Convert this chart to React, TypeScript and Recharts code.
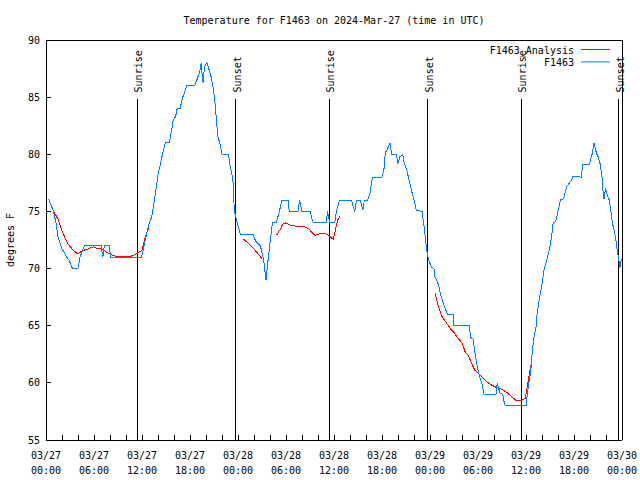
import { LineChart, Line, XAxis, YAxis, ReferenceLine, Legend } from "recharts";

// hours since 03/27 00:00 UTC
const obsHours = [
  0.3, 0.9, 1.25, 1.5, 1.95, 2.6, 2.9, 3.3, 4.0, 4.25, 4.8, 6.9, 7.1, 7.3, 7.9, 8.1, 11.9, 12.1, 12.25, 12.6,
  12.9, 13.2, 13.5, 13.8, 14.0, 14.5, 14.9, 15.4, 15.7, 15.9, 16.2, 16.4, 16.75, 17.1, 17.4, 17.6, 18.6, 18.9,
  19.2, 19.4, 19.5, 19.65, 19.8, 20.1, 20.3, 20.6, 20.9, 21.1, 21.3, 21.5, 21.8, 22.0, 22.8, 23.0, 23.2, 23.4,
  23.5, 23.6, 23.9, 24.3, 25.9, 26.2, 26.8, 27.2, 27.4, 27.5, 27.7, 28.0, 28.3, 28.8, 29.2, 29.5, 30.3, 30.4,
  31.5, 31.7, 32.0, 33.0, 33.2, 33.4, 35.0, 35.2, 35.3, 35.5, 36.1, 36.3, 36.7, 38.2, 38.4, 38.6, 38.8, 39.3,
  39.6, 39.8, 40.2, 40.5, 40.8, 42.0, 42.3, 42.4, 42.7, 43.0, 43.2, 43.8, 44.0, 44.25, 44.6, 44.75, 45.1, 45.4,
  45.7, 46.0, 46.3, 47.0, 47.2, 47.4, 47.6, 47.8, 48.2, 48.5, 48.6, 48.9, 49.1, 49.3, 49.6, 49.9, 50.2, 50.9,
  51.0, 52.9, 53.1, 53.4, 53.6, 53.8, 54.0, 54.25, 54.5, 54.75, 56.25, 56.4, 56.75, 57.1, 57.2, 57.4, 60.0,
  60.1, 60.3, 60.6, 60.8, 61.0, 61.25, 61.4, 61.7, 62.0, 62.25, 62.6, 62.9, 63.2, 63.4, 63.7, 64.0, 64.3, 64.7,
  65.1, 65.7, 65.9, 66.9, 67.1, 67.9, 68.1, 68.3, 68.5, 68.6, 68.8, 69.0, 69.25, 69.5, 69.6, 69.75, 69.95,
  70.1, 70.4, 70.6, 70.8, 71.1, 71.3, 71.4, 71.6, 71.75, 71.9,
];
const obsTemps = [
  76.1, 75.1, 74.0, 72.8, 71.8, 71.0, 70.7, 70.0, 70.0, 71.0, 72.0, 72.0, 71.0, 72.0, 72.0, 71.0, 71.0, 71.4, 72.0, 73.1,
  74.0, 74.5, 75.7, 77.2, 78.2, 79.8, 81.0, 81.0, 82.1, 83.0, 83.3, 84.0, 84.0, 85.0, 85.6, 86.0, 86.0, 86.6,
  87.2, 88.0, 87.1, 86.2, 87.6, 88.0, 87.6, 86.9, 85.8, 84.7, 83.0, 81.5, 80.8, 80.0, 80.0, 79.1, 78.4, 77.5,
  75.7, 74.9, 74.0, 73.0, 73.0, 72.4, 72.0, 70.75, 69.6, 69.0, 70.4, 72.2, 74.0, 74.0, 75.1, 76.0, 76.0, 75.0,
  75.0, 76.0, 75.0, 75.0, 74.5, 74.0, 74.0, 75.0, 74.5, 74.0, 74.0, 75.0, 76.0, 76.0, 75.4, 75.0, 76.0, 76.0,
  75.1, 76.0, 76.0, 76.6, 78.0, 78.0, 78.9, 80.1, 80.5, 81.0, 80.0, 80.0, 79.2, 79.8, 80.0, 79.3, 78.6, 77.7,
  76.8, 76.0, 75.1, 75.0, 74.0, 72.8, 71.6, 70.8, 70.1, 70.0, 69.3, 68.9, 68.5, 67.8, 67.1, 66.5, 66.0, 66.0,
  65.0, 65.0, 64.0, 63.8, 62.7, 61.9, 61.1, 60.4, 59.9, 59.0, 59.0, 60.0, 59.1, 59.0, 58.5, 58.0, 58.0,
  58.65, 59.7, 61.1, 62.9, 64.0, 64.9, 66.1, 67.5, 68.6, 69.9, 70.75, 71.6, 72.8, 74.0, 74.1, 75.0, 76.0, 76.1,
  77.2, 77.75, 78.1, 78.0, 79.1, 79.1, 79.6, 80.1, 81.0, 80.7, 80.1, 79.8, 79.2, 78.0, 76.9, 76.1, 77.0,
  76.6, 76.0, 75.1, 74.0, 73.1, 72.2, 71.6, 70.75, 70.1, 70.8,
];

// analysis series, null marks a break in the line
const anaHours = [
  0.75, 1.55, 1.95, 2.4, 2.8, 3.4, 3.95, 4.7, 5.2, 5.9, 6.5, 7.1, 7.6, 8.2, 8.8, 9.6, 10.5, 11.1, 11.5, 12.0,
  12.2, 12.45, 12.7, 12.9, 18.0,
  24.7, 25.3, 25.9, 26.5, 27.0, 28.0,
  28.8, 29.25, 29.6, 29.9, 30.5, 31.3, 32.2, 32.8, 33.2, 33.6, 34.0, 34.7, 35.1, 35.5, 35.9, 36.1, 36.3, 36.5,
  36.75, 42.0,
  48.6, 49.0, 49.5, 50.1, 50.7, 51.0, 51.5, 52.0, 52.4, 52.8, 53.2, 53.6, 54.0, 54.5, 55.1, 55.7, 56.3, 56.95,
  57.6, 58.2, 58.7, 59.5, 59.9, 60.1, 60.3, 60.5, 60.75,
];
const anaTemps = [
  75.3, 74.25, 73.4, 72.65, 72.1, 71.6, 71.3, 71.6, 71.7, 71.9, 71.75, 71.7, 71.4, 71.2, 71.05, 71.1, 71.05, 71.2, 71.4, 71.6,
  72.2, 72.8, 73.4, 73.5, null,
  72.56, 72.2, 71.8, 71.3, 70.85, null,
  72.9, 73.4, 73.9, 74.0, 73.8, 73.7, 73.7, 73.5, 73.2, 72.9, 73.0, 73.1, 73.0, 72.8, 72.56, 73.1, 73.8, 74.3,
  74.6, null,
  67.9, 66.8, 65.8, 65.2, 64.6, 64.4, 63.9, 63.5, 62.7, 62.4, 61.7, 61.1, 60.9, 60.5, 60.1, 59.8, 59.6, 59.45,
  59.15, 58.8, 58.5, 58.5, 58.65, 59.4, 60.25, 61.1, 62.05,
];

const sunHours = [11.4, 23.7, 35.4, 47.7, 59.4, 71.6];
const sunLabels = ["Sunrise", "Sunset", "Sunrise", "Sunset", "Sunrise", "Sunset"];

const hourTicks = [0, 2, 4, 6, 8, 10, 12, 14, 16, 18, 20, 22, 24, 26, 28, 30, 32, 34, 36, 38, 40, 42, 44, 46, 48, 50, 52, 54, 56, 58, 60, 62, 64, 66, 68, 70, 72];
const labelHours = [0, 6, 12, 18, 24, 30, 36, 42, 48, 54, 60, 66, 72];
const dayLabels = ["03/27", "03/27", "03/27", "03/27", "03/28", "03/28", "03/28", "03/28", "03/29", "03/29", "03/29", "03/29", "03/30"];
const timeLabels = ["00:00", "06:00", "12:00", "18:00", "00:00", "06:00", "12:00", "18:00", "00:00", "06:00", "12:00", "18:00", "00:00"];
const tempTicks = [55, 60, 65, 70, 75, 80, 85, 90];

const seriesNames = ["F1463_Analysis", "F1463"];
const seriesColors = ["#ff0000", "#0080ff"];

const FONT = '"DejaVu Sans Mono", "Liberation Mono", monospace';

const obs = obsHours.map((h, i) => ({ h, t: obsTemps[i] }));
const ana = anaHours.map((h, i) => ({ h, t: anaTemps[i] }));

function BottomTick({ x, y, payload }: any) {
  const i = labelHours.indexOf(payload.value);
  return (
    <g>
      <line x1={x} x2={x} y1={y} y2={y - 5} stroke="#000" shapeRendering="crispEdges" />
      {i >= 0 && (
        <text x={x} y={y + 19} textAnchor="middle" fontFamily={FONT} fontSize={10} fill="#000">
          <tspan x={x}>{dayLabels[i]}</tspan>
          <tspan x={x} dy={15}>{timeLabels[i]}</tspan>
        </text>
      )}
    </g>
  );
}

function TopTick({ x, y }: any) {
  return <line x1={x} x2={x} y1={y} y2={y + 5} stroke="#000" shapeRendering="crispEdges" />;
}

function LeftTick({ x, y, payload }: any) {
  return (
    <g>
      <line x1={x} x2={x + 5} y1={y} y2={y} stroke="#000" shapeRendering="crispEdges" />
      <text x={x - 6} y={y + 3.6} textAnchor="end" fontFamily={FONT} fontSize={10} fill="#000">
        {payload.value}
      </text>
    </g>
  );
}

function RightTick({ x, y }: any) {
  return <line x1={x} x2={x - 5} y1={y} y2={y} stroke="#000" shapeRendering="crispEdges" />;
}

function SunLabel({ viewBox, text }: any) {
  const x = (viewBox?.x ?? 0) + 5;
  const y = (viewBox?.y ?? 0) - 7;
  return (
    <text transform={`translate(${x},${y}) rotate(-90)`} fontFamily={FONT} fontSize={10} fill="#000">
      {text}
    </text>
  );
}

function LegendBox() {
  return (
    <svg width={640} height={80} style={{ position: "absolute", left: 0, top: 0, overflow: "visible" }}>
      {seriesNames.map((name, i) => (
        <g key={name}>
          <text x={574} y={53.6 + i * 12.4} textAnchor="end" fontFamily={FONT} fontSize={10} fill="#000">
            {name}
          </text>
          <rect x={581} y={49 + i * 12.4} width={29} height={1} fill={seriesColors[i]} />
        </g>
      ))}
    </svg>
  );
}

export default function App() {
  return (
    <div style={{ position: "absolute", left: 0, top: 0, width: 640, height: 480, background: "#fff" }}>
      <LineChart width={640} height={480} margin={{ top: 0, right: 0, bottom: 0, left: 0 }}>
        <XAxis
          dataKey="h"
          type="number"
          domain={[0, 72]}
          ticks={hourTicks}
          interval={0}
          height={40}
          tickSize={0}
          tickMargin={0}
          tickLine={false}
          axisLine={{ stroke: "#000", shapeRendering: "crispEdges" }}
          tick={BottomTick}
        />
        <XAxis
          xAxisId="top"
          orientation="top"
          dataKey="h"
          type="number"
          domain={[0, 72]}
          ticks={hourTicks}
          interval={0}
          height={40}
          tickSize={0}
          tickMargin={0}
          tickLine={false}
          axisLine={{ stroke: "#000", shapeRendering: "crispEdges" }}
          tick={TopTick}
        />
        <YAxis
          type="number"
          domain={[55, 90]}
          ticks={tempTicks}
          interval={0}
          width={46}
          tickSize={0}
          tickMargin={0}
          tickLine={false}
          axisLine={{ stroke: "#000", shapeRendering: "crispEdges" }}
          tick={LeftTick}
        />
        <YAxis
          yAxisId="right"
          orientation="right"
          type="number"
          domain={[55, 90]}
          ticks={tempTicks}
          interval={0}
          width={18}
          tickSize={0}
          tickMargin={0}
          tickLine={false}
          axisLine={{ stroke: "#000", shapeRendering: "crispEdges" }}
          tick={RightTick}
        />
        {sunHours.map((h, i) => (
          <ReferenceLine
            key={i}
            segment={[
              { x: h, y: 55 },
              { x: h, y: 84.8 },
            ]}
            stroke="#000"
            strokeWidth={1}
            shapeRendering="crispEdges"
            label={<SunLabel text={sunLabels[i]} />}
          />
        ))}
        <Line
          data={ana}
          dataKey="t"
          name={seriesNames[0]}
          stroke={seriesColors[0]}
          strokeWidth={1}
          dot={false}
          activeDot={false}
          connectNulls={false}
          shapeRendering="crispEdges"
          isAnimationActive={false}
        />
        <Line
          data={obs}
          dataKey="t"
          name={seriesNames[1]}
          stroke={seriesColors[1]}
          strokeWidth={1}
          dot={false}
          activeDot={false}
          shapeRendering="crispEdges"
          isAnimationActive={false}
        />
        <Legend
          layout="horizontal"
          verticalAlign="middle"
          align="center"
          wrapperStyle={{ left: 0, top: 0, width: 640, height: 0 }}
          content={LegendBox}
        />
      </LineChart>
      <svg width={640} height={480} style={{ position: "absolute", left: 0, top: 0, pointerEvents: "none" }}>
        <text x={334} y={23.6} textAnchor="middle" fontFamily={FONT} fontSize={10} fill="#000">
          Temperature for F1463 on 2024-Mar-27 (time in UTC)
        </text>
        <text transform="translate(13.5,240) rotate(-90)" textAnchor="middle" fontFamily={FONT} fontSize={10} fill="#000">
          degrees F
        </text>
      </svg>
    </div>
  );
}
